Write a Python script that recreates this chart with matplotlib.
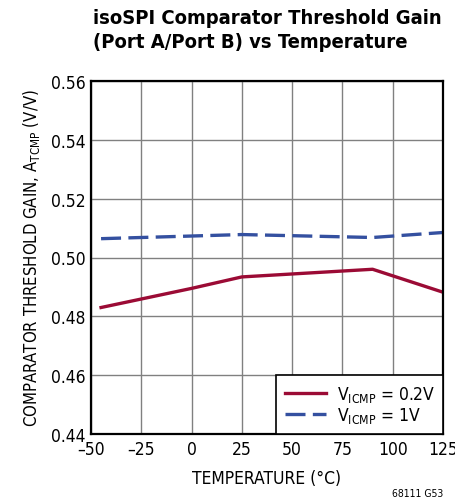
import numpy as np
import matplotlib
matplotlib.use("Agg")
import matplotlib.pyplot as plt

# data
temp_c = [-45, 0, 25, 90, 125]
gain_02v = [0.4830, 0.4895, 0.4934, 0.4960, 0.4882]
gain_1v = [0.5064, 0.5073, 0.5078, 0.5068, 0.5085]

x_ticks = [-50, -25, 0, 25, 50, 75, 100, 125]
y_ticks = [0.44, 0.46, 0.48, 0.50, 0.52, 0.54, 0.56]
y_ticklabels = ["0.44", "0.46", "0.48", "0.50", "0.52", "0.54", "0.56"]

plt.rcParams["font.family"] = ["DejaVu Sans"]
plt.rcParams["font.stretch"] = "condensed"
plt.rcParams["mathtext.fontset"] = "dejavusans"

red = "#9b0b35"
blue = "#3450a0"

fig = plt.figure(figsize=(4.55, 5.02), dpi=100)
ax = fig.add_axes([91 / 455, 1 - 435 / 502, (443 - 91) / 455, (435 - 82) / 502])

ax.plot(temp_c, gain_02v, color=red, linewidth=2.4, label="V$_{\\mathrm{ICMP}}$ = 0.2V")
ax.plot(temp_c, gain_1v, color=blue, linewidth=2.4, linestyle=(0, (6, 2.2)),
        label="V$_{\\mathrm{ICMP}}$ = 1V")

ax.set_xlim(-50, 125)
ax.set_ylim(0.44, 0.56)
ax.set_xticks(x_ticks)
ax.set_xticklabels([str(t).replace("-", "\u2013") for t in x_ticks])
ax.set_yticks(y_ticks)
ax.set_yticklabels(y_ticklabels)
ax.tick_params(axis="both", length=0, labelsize=12.5, pad=4)
ax.grid(True, color="#808080", linewidth=1.0)
ax.set_axisbelow(True)
for s in ax.spines.values():
    s.set_linewidth(1.6)
    s.set_color("black")

ax.set_xlabel("TEMPERATURE (°C)", fontsize=12.5, labelpad=8)
ax.set_ylabel("COMPARATOR THRESHOLD GAIN, A$_{\\mathrm{TCMP}}$ (V/V)", fontsize=12, labelpad=6)

leg = ax.legend(loc="lower right", fontsize=12.5, frameon=True, fancybox=False,
                borderpad=0.5, handlelength=2.4, labelspacing=0.1,
                borderaxespad=0.0, handletextpad=0.6)
leg.get_frame().set_edgecolor("black")
leg.get_frame().set_linewidth(1.2)
leg.get_frame().set_alpha(1)

fig.text(93 / 455, 1 - 9 / 502, "isoSPI Comparator Threshold Gain\n(Port A/Port B) vs Temperature",
         ha="left", va="top", fontsize=14.5, fontweight="bold", linespacing=1.35)
fig.text(443 / 455, 0.005, "68111 G53", ha="right", va="bottom", fontsize=7.5)

fig.savefig("out.png", dpi=100)
